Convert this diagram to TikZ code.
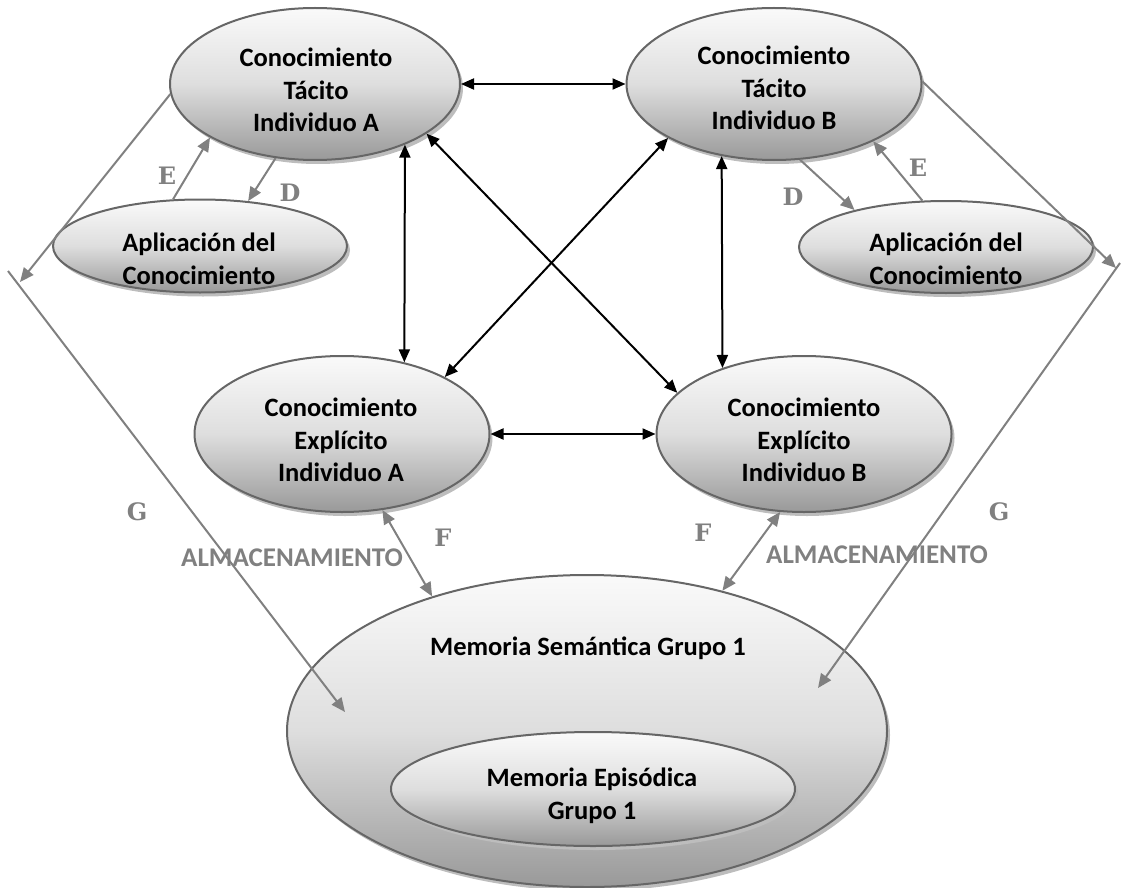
\documentclass[tikz,border=0pt]{standalone}
\usepackage{fontspec}
\setmainfont{Carlito}
\newfontfamily\markfont{DejaVu Serif}
\usetikzlibrary{shapes.geometric,arrows.meta,shadows}

\definecolor{rim}{HTML}{666666}
\definecolor{linkgray}{HTML}{808080}
\definecolor{shadowgray}{HTML}{BDBDBD}

\tikzset{
  bubble/.style={ellipse, draw=rim, line width=2pt, inner sep=0pt,
    top color=black!2, bottom color=black!40, middle color=black!13,
    general shadow={shadow xshift=3pt, shadow yshift=-4pt, fill=shadowgray}},
  caption/.style={font=\bfseries\fontsize{26.5}{32.5}\selectfont, align=center, text=black, inner sep=0pt},
  letterlbl/.style={font=\markfont\bfseries\fontsize{24}{24}\selectfont, text=linkgray, inner sep=0pt},
  storelbl/.style={font=\bfseries\fontsize{27}{27}\selectfont, text=linkgray, inner sep=0pt},
  darklink/.style={{Triangle[length=13pt,width=11pt]}-{Triangle[length=13pt,width=11pt]}, line width=2pt, black},
  palelink/.style={-{Triangle[length=14pt,width=12pt]}, line width=2pt, linkgray},
  palepair/.style={{Triangle[length=14pt,width=12pt]}-{Triangle[length=14pt,width=12pt]}, line width=2pt, linkgray}
}

\begin{document}
\begin{tikzpicture}[x=1pt,y=-1pt]
\useasboundingbox (0,0) rectangle (1121,888);

% knowledge ellipses
\node[bubble, minimum width=290pt, minimum height=152pt] (tA) at (315,84) {};
\node[bubble, minimum width=295pt, minimum height=152pt] (tB) at (774,84) {};
\node[bubble, minimum width=294pt, minimum height=93pt] (apA) at (200,246) {};
\node[bubble, minimum width=294pt, minimum height=92pt] (apB) at (946,247) {};
\node[bubble, minimum width=295pt, minimum height=156pt] (exA) at (342,434) {};
\node[bubble, minimum width=295pt, minimum height=156pt] (exB) at (804,434) {};

% group memory
\node[bubble, minimum width=600pt, minimum height=312pt] (sem) at (587,731) {};
\node[bubble, minimum width=404pt, minimum height=114pt] (epi) at (593,789) {};

% texts
\node[caption] (tAt) at (316,90) {Conocimiento\\Tácito\\Individuo A};
\node[caption] (tBt) at (774,88) {Conocimiento\\Tácito\\Individuo B};
\node[caption] (apAt) at (199,259) {Aplicación del\\Conocimiento};
\node[caption] (apBt) at (946,259) {Aplicación del\\Conocimiento};
\node[caption] (exAt) at (341,440) {Conocimiento\\Explícito\\Individuo A};
\node[caption] (exBt) at (804,440) {Conocimiento\\Explícito\\Individuo B};
\node[caption] (semt) at (588,648) {Memoria Semántica Grupo 1};
\node[caption] (epit) at (592,796) {Memoria Episódica\\Grupo 1};

\node[storelbl] (stA) at (292,558) {ALMACENAMIENTO};
\node[storelbl] (stB) at (877,555) {ALMACENAMIENTO};

% letters
\node[letterlbl] (eA) at (167,176) {E};
\node[letterlbl] (dA) at (290,193) {D};
\node[letterlbl] (dB) at (793,197) {D};
\node[letterlbl] (eB) at (918,168) {E};
\node[letterlbl] (gA) at (137,512) {G};
\node[letterlbl] (gB) at (999,512) {G};
\node[letterlbl] (fA) at (443,538) {F};
\node[letterlbl] (fB) at (703,533) {F};

% exchanges between individuals
\draw[darklink] (tA.east) -- (tB.west);
\draw[darklink] (exA.east) -- (exB.west);
\draw[darklink] (tA.-34.5) -- (exA.49.3);
\draw[darklink] (tB.234.4) -- (exB.141.2);
\draw[darklink] (tA.-24) -- (exB.162);
\draw[darklink] (tB.207.3) -- (exA.29);

% application loops
\draw[palelink] (apA.120.8) -- (tA.207.7);
\draw[palelink] (tA.242.8) -- (apA.43.8);
\draw[palelink] (tB.-71.1) -- (apB.158.9);
\draw[palelink] (apB.117) -- (tB.-30.3);

% storage
\draw[palepair] (exA.-62.6) -- (sem.139);
\draw[palepair] (exB.253.3) -- (sem.46.4);

% paths into semantic memory
\coordinate (gLtip) at (20,282);
\coordinate (gLstart) at (8,271);
\coordinate (gLend) at (345,712);
\coordinate (gRtip) at (1116,268);
\coordinate (gRstart) at (1120,263);
\coordinate (gRend) at (818,688);
\draw[palelink] (tA.184) -- (gLtip);
\draw[palelink] (gLstart) -- (gLend);
\draw[palelink] (tB.1) -- (gRtip);
\draw[palelink] (gRstart) -- (gRend);
\end{tikzpicture}
\end{document}
